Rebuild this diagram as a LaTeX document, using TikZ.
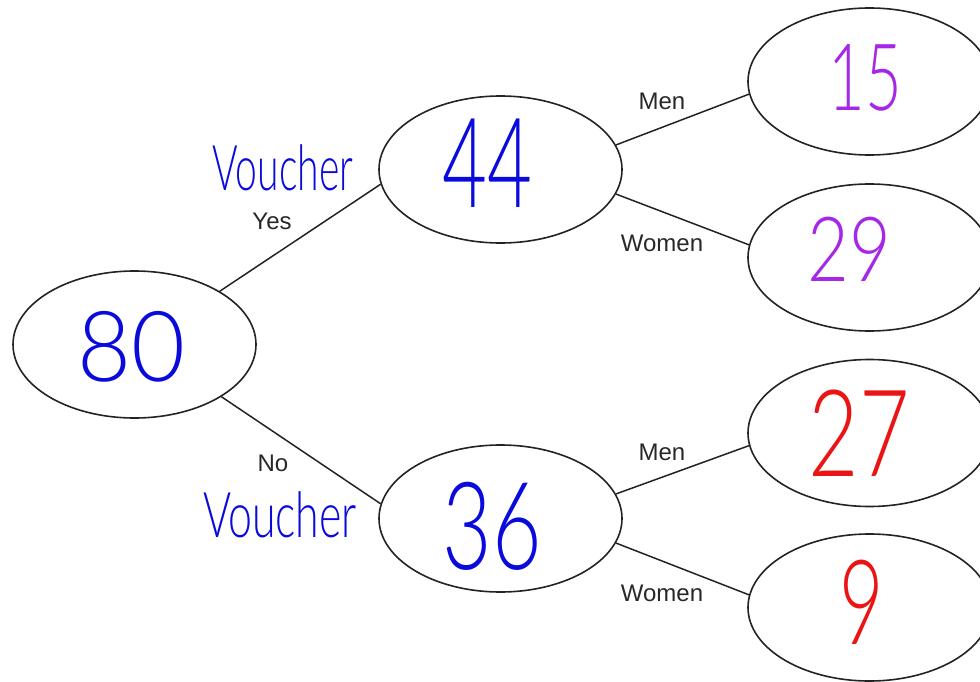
\documentclass[tikz,border=0pt]{standalone}
\usepackage{fontspec}
\setmainfont{Liberation Sans}
\newfontfamily\handfont{Lato Light}
\usetikzlibrary{shapes.geometric}

\definecolor{penblue}{RGB}{10,10,220}
\definecolor{penviolet}{RGB}{165,40,230}
\definecolor{penred}{RGB}{235,20,20}
\definecolor{edgegray}{RGB}{35,35,35}
\definecolor{labelgray}{RGB}{40,40,40}

% hand-written text: size, horizontal squeeze, text
\newcommand{\scrawl}[3]{\scalebox{#2}[1]{\fontsize{#1}{#1}\selectfont\handfont #3}}

\tikzset{
  blob/.style={ellipse, draw=edgegray, line width=1.6pt,
    minimum width=243pt, minimum height=147pt, inner sep=0pt},
  branch/.style={draw=edgegray, line width=1.5pt},
  tag/.style={text=labelgray, font=\fontsize{24}{24}\selectfont, inner sep=0pt},
  pen/.style={inner sep=0pt, text=#1},
}

\begin{document}
\begin{tikzpicture}[x=1pt, y=-1pt]
  \useasboundingbox (0,0) rectangle (980,682);
  \clip (0,0) rectangle (980,682);

  % tree nodes
  \node[blob] (root) at (134.5,344.5) {};
  \node[blob] (yes) at (500.5,169.5) {};
  \node[blob] (no) at (500.5,518.5) {};
  \node[blob] (yesmen) at (869.5,81.5) {};
  \node[blob] (yeswomen) at (869.5,257.5) {};
  \node[blob] (nomen) at (869.5,433) {};
  \node[blob] (nowomen) at (869.5,607.5) {};

  % counts
  \node[pen=penblue] (n80) at (131,347) {\scrawl{98}{0.95}{80}};
  \node[pen=penblue] (n44) at (487.5,163) {\scrawl{125}{0.62}{44}};
  \node[pen=penblue] (n36) at (492,526) {\scrawl{122}{0.7}{36}};
  \node[pen=penviolet] (n15) at (865,78) {\scrawl{93}{0.68}{15}};
  \node[pen=penviolet] (n29) at (849,249) {\scrawl{90}{0.8}{29}};
  \node[pen=penred] (n27) at (859,433) {\scrawl{121}{0.72}{27}};
  \node[pen=penred] (n9) at (862,602) {\scrawl{118}{0.65}{9}};

  % branches
  \draw[branch] (root.32) -- (yes.187);
  \draw[branch] (root.-31) -- (no.173);
  \draw[branch] (yes.12) -- (yesmen.186);
  \draw[branch] (yes.-12) -- (yeswomen.174);
  \draw[branch] (no.12) -- (nomen.186);
  \draw[branch] (no.-12) -- (nowomen.174);

  % branch labels
  \node[tag] (tyes) at (272,221) {Yes};
  \node[tag] (tno) at (273,463) {No};
  \node[tag] (tmen1) at (662,101) {Men};
  \node[tag] (twomen1) at (662,243) {Women};
  \node[tag] (tmen2) at (662,452) {Men};
  \node[tag] (twomen2) at (662,593) {Women};
  \node[pen=penblue] (vyes) at (283,168) {\scrawl{63}{0.62}{Voucher}};
  \node[pen=penblue] (vno) at (280,515) {\scrawl{63}{0.68}{Voucher}};
\end{tikzpicture}
\end{document}
